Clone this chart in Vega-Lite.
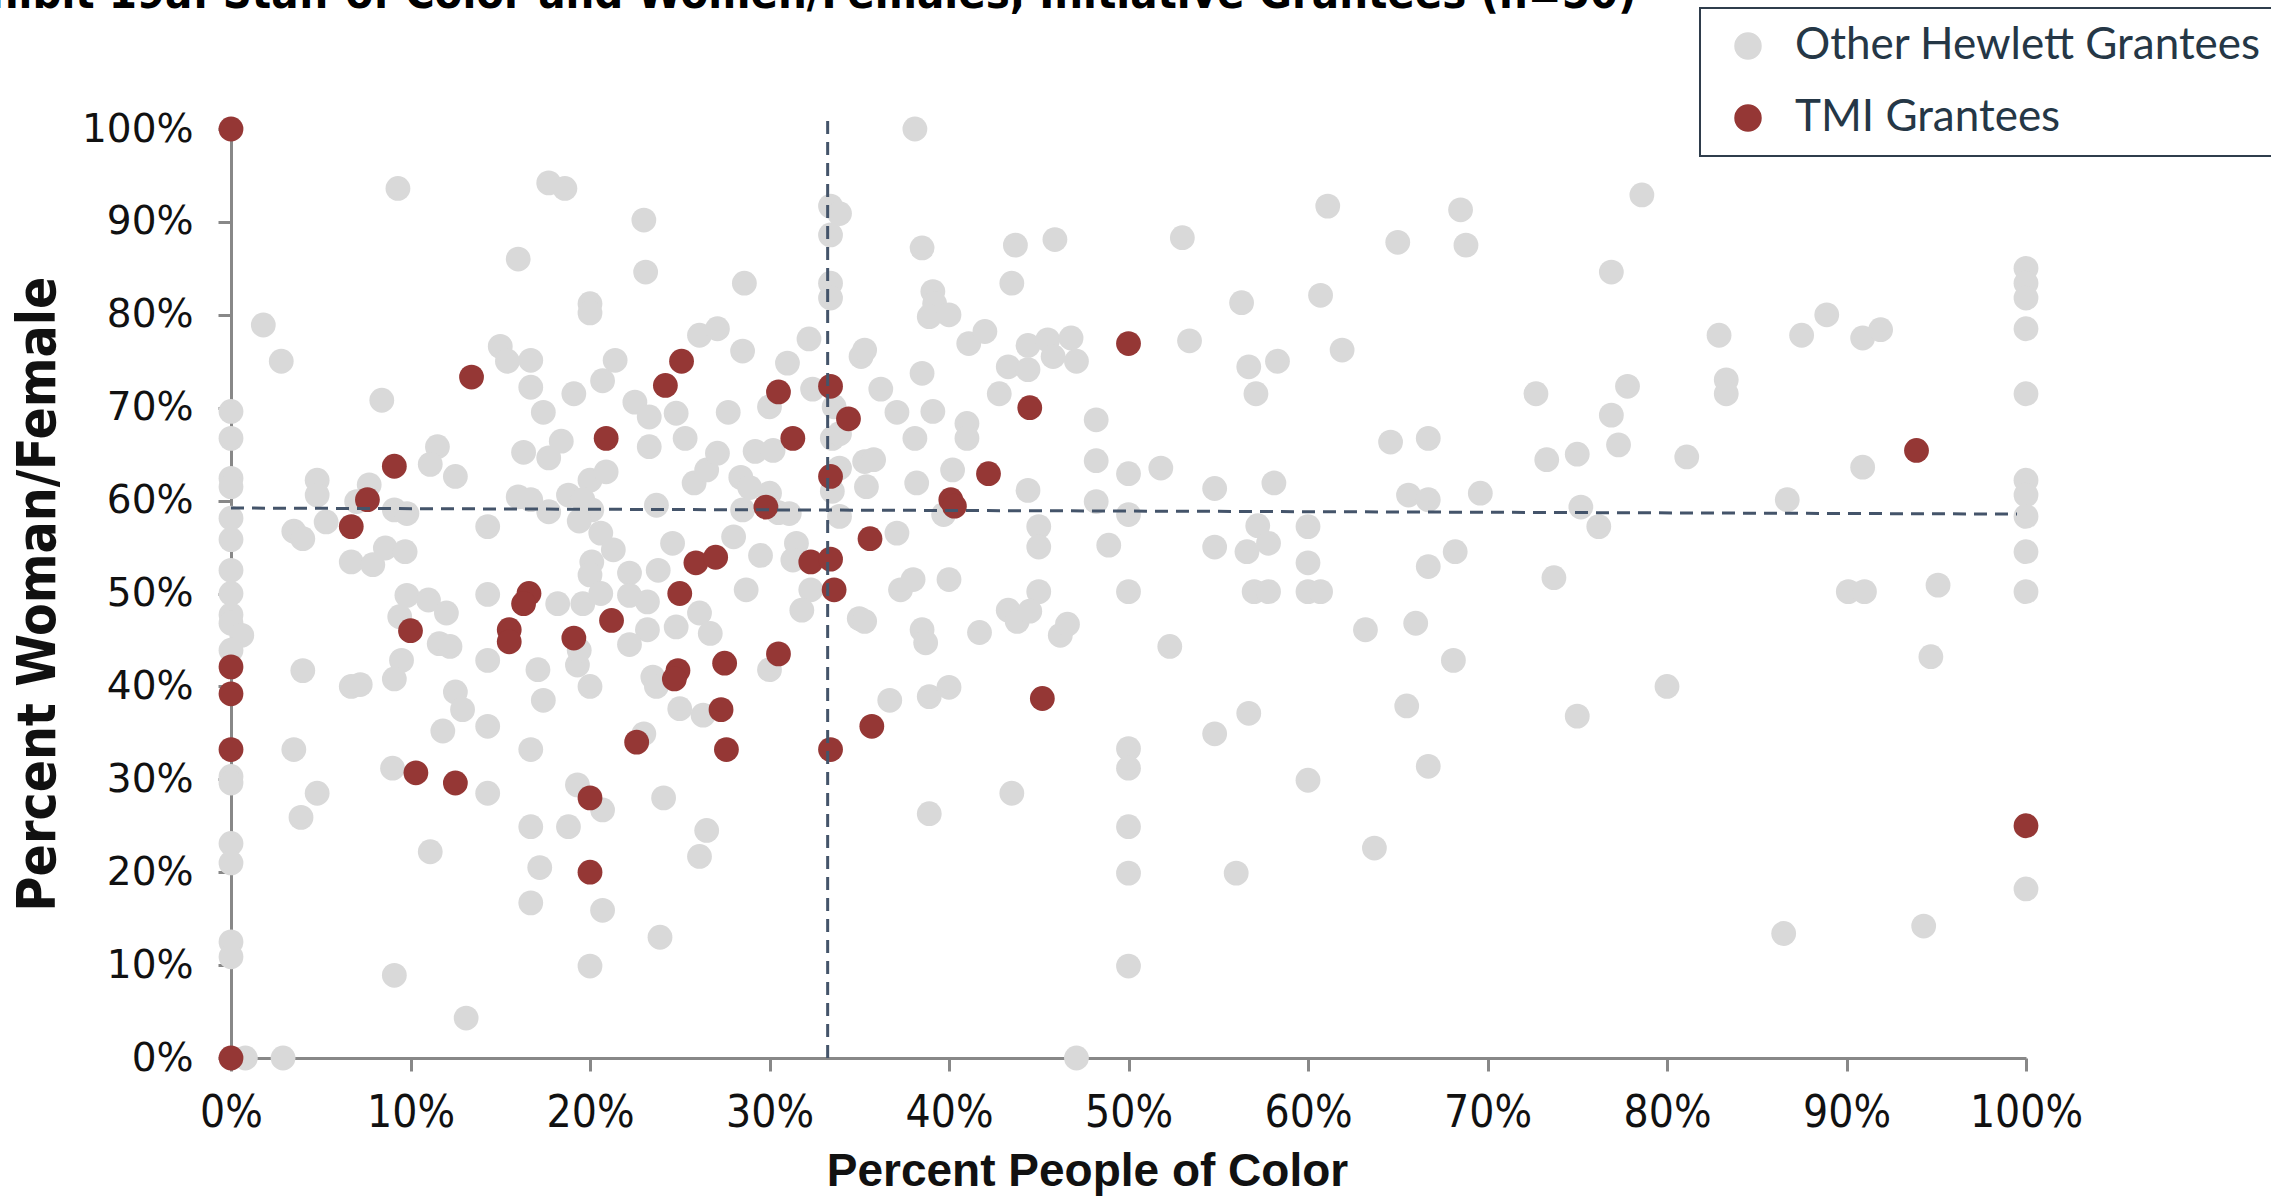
{
  "$schema": "https://vega.github.io/schema/vega-lite/v6.json",
  "width": 1795,
  "height": 929,
  "autosize": {"type": "none"},
  "padding": {"left": 231, "top": 129, "right": 245, "bottom": 145},
  "background": "white",
  "title": {
    "text": "Exhibit 19a: Staff of Color and Women/Females, Initiative Grantees (n=50)",
    "anchor": "start",
    "frame": "group",
    "font": "DejaVu Sans Condensed, DejaVu Sans, sans-serif",
    "fontWeight": "bold",
    "fontSize": 45,
    "color": "#000000",
    "baseline": "alphabetic",
    "offset": 0,
    "dx": -295,
    "dy": 46
  },
  "config": {"view": {"stroke": null}, "legend": {"strokeWidth": 2}},
  "layer": [
    {
      "data": {"values": [
        {"x":9.3,"y":93.6,"g":"Other Hewlett Grantees"},{"x":17.7,"y":94.2,"g":"Other Hewlett Grantees"},{"x":18.6,"y":93.6,"g":"Other Hewlett Grantees"},{"x":23.0,"y":90.2,"g":"Other Hewlett Grantees"},{"x":16.0,"y":86.0,"g":"Other Hewlett Grantees"},{"x":23.1,"y":84.6,"g":"Other Hewlett Grantees"},{"x":20.0,"y":81.2,"g":"Other Hewlett Grantees"},{"x":20.0,"y":80.2,"g":"Other Hewlett Grantees"},{"x":1.8,"y":78.9,"g":"Other Hewlett Grantees"},{"x":2.8,"y":75.0,"g":"Other Hewlett Grantees"},
        {"x":15.0,"y":76.6,"g":"Other Hewlett Grantees"},{"x":15.4,"y":75.0,"g":"Other Hewlett Grantees"},{"x":16.7,"y":75.1,"g":"Other Hewlett Grantees"},{"x":16.7,"y":72.2,"g":"Other Hewlett Grantees"},{"x":17.4,"y":69.5,"g":"Other Hewlett Grantees"},{"x":19.1,"y":71.5,"g":"Other Hewlett Grantees"},{"x":20.7,"y":72.9,"g":"Other Hewlett Grantees"},{"x":21.4,"y":75.1,"g":"Other Hewlett Grantees"},{"x":22.5,"y":70.6,"g":"Other Hewlett Grantees"},{"x":23.3,"y":69.0,"g":"Other Hewlett Grantees"},
        {"x":24.8,"y":69.4,"g":"Other Hewlett Grantees"},{"x":25.3,"y":66.7,"g":"Other Hewlett Grantees"},{"x":23.3,"y":65.8,"g":"Other Hewlett Grantees"},{"x":18.4,"y":66.4,"g":"Other Hewlett Grantees"},{"x":17.7,"y":64.6,"g":"Other Hewlett Grantees"},{"x":16.3,"y":65.2,"g":"Other Hewlett Grantees"},{"x":8.4,"y":70.8,"g":"Other Hewlett Grantees"},{"x":11.5,"y":65.8,"g":"Other Hewlett Grantees"},{"x":11.1,"y":63.9,"g":"Other Hewlett Grantees"},{"x":12.5,"y":62.6,"g":"Other Hewlett Grantees"},
        {"x":0,"y":69.6,"g":"Other Hewlett Grantees"},{"x":0,"y":66.7,"g":"Other Hewlett Grantees"},{"x":0,"y":62.4,"g":"Other Hewlett Grantees"},{"x":0,"y":61.5,"g":"Other Hewlett Grantees"},{"x":0,"y":58.1,"g":"Other Hewlett Grantees"},{"x":0,"y":55.8,"g":"Other Hewlett Grantees"},{"x":4.8,"y":62.2,"g":"Other Hewlett Grantees"},{"x":4.8,"y":60.6,"g":"Other Hewlett Grantees"},{"x":5.3,"y":57.7,"g":"Other Hewlett Grantees"},{"x":7.7,"y":61.7,"g":"Other Hewlett Grantees"},
        {"x":7.0,"y":59.9,"g":"Other Hewlett Grantees"},{"x":9.1,"y":59.0,"g":"Other Hewlett Grantees"},{"x":9.8,"y":58.6,"g":"Other Hewlett Grantees"},{"x":3.5,"y":56.7,"g":"Other Hewlett Grantees"},{"x":4.0,"y":55.9,"g":"Other Hewlett Grantees"},{"x":6.7,"y":53.4,"g":"Other Hewlett Grantees"},{"x":7.9,"y":53.1,"g":"Other Hewlett Grantees"},{"x":8.6,"y":54.9,"g":"Other Hewlett Grantees"},{"x":9.7,"y":54.5,"g":"Other Hewlett Grantees"},{"x":14.3,"y":57.2,"g":"Other Hewlett Grantees"},
        {"x":16.0,"y":60.4,"g":"Other Hewlett Grantees"},{"x":16.7,"y":60.1,"g":"Other Hewlett Grantees"},{"x":17.7,"y":58.8,"g":"Other Hewlett Grantees"},{"x":18.8,"y":60.6,"g":"Other Hewlett Grantees"},{"x":20.0,"y":62.2,"g":"Other Hewlett Grantees"},{"x":20.9,"y":63.1,"g":"Other Hewlett Grantees"},{"x":19.6,"y":60.1,"g":"Other Hewlett Grantees"},{"x":20.1,"y":59.0,"g":"Other Hewlett Grantees"},{"x":19.4,"y":57.8,"g":"Other Hewlett Grantees"},{"x":20.6,"y":56.5,"g":"Other Hewlett Grantees"},
        {"x":21.3,"y":54.7,"g":"Other Hewlett Grantees"},{"x":20.1,"y":53.4,"g":"Other Hewlett Grantees"},{"x":20.0,"y":52.0,"g":"Other Hewlett Grantees"},{"x":22.2,"y":52.2,"g":"Other Hewlett Grantees"},{"x":23.7,"y":59.5,"g":"Other Hewlett Grantees"},{"x":24.6,"y":55.4,"g":"Other Hewlett Grantees"},{"x":23.8,"y":52.5,"g":"Other Hewlett Grantees"},{"x":25.8,"y":61.9,"g":"Other Hewlett Grantees"},{"x":26.5,"y":63.3,"g":"Other Hewlett Grantees"},{"x":0,"y":52.5,"g":"Other Hewlett Grantees"},
        {"x":0,"y":50.0,"g":"Other Hewlett Grantees"},{"x":0,"y":47.7,"g":"Other Hewlett Grantees"},{"x":0,"y":46.8,"g":"Other Hewlett Grantees"},{"x":0.6,"y":45.5,"g":"Other Hewlett Grantees"},{"x":0,"y":43.9,"g":"Other Hewlett Grantees"},{"x":4.0,"y":41.7,"g":"Other Hewlett Grantees"},{"x":6.7,"y":40.0,"g":"Other Hewlett Grantees"},{"x":7.2,"y":40.2,"g":"Other Hewlett Grantees"},{"x":9.8,"y":49.8,"g":"Other Hewlett Grantees"},{"x":11.0,"y":49.3,"g":"Other Hewlett Grantees"},
        {"x":12.0,"y":47.9,"g":"Other Hewlett Grantees"},{"x":9.4,"y":47.5,"g":"Other Hewlett Grantees"},{"x":11.6,"y":44.6,"g":"Other Hewlett Grantees"},{"x":12.2,"y":44.3,"g":"Other Hewlett Grantees"},{"x":9.5,"y":42.8,"g":"Other Hewlett Grantees"},{"x":9.1,"y":40.8,"g":"Other Hewlett Grantees"},{"x":12.5,"y":39.4,"g":"Other Hewlett Grantees"},{"x":12.9,"y":37.5,"g":"Other Hewlett Grantees"},{"x":11.8,"y":35.2,"g":"Other Hewlett Grantees"},{"x":14.3,"y":35.7,"g":"Other Hewlett Grantees"},
        {"x":14.3,"y":42.8,"g":"Other Hewlett Grantees"},{"x":14.3,"y":49.9,"g":"Other Hewlett Grantees"},{"x":3.5,"y":33.2,"g":"Other Hewlett Grantees"},{"x":9.0,"y":31.2,"g":"Other Hewlett Grantees"},{"x":0,"y":30.3,"g":"Other Hewlett Grantees"},{"x":0,"y":29.6,"g":"Other Hewlett Grantees"},{"x":4.8,"y":28.5,"g":"Other Hewlett Grantees"},{"x":3.9,"y":25.9,"g":"Other Hewlett Grantees"},{"x":14.3,"y":28.5,"g":"Other Hewlett Grantees"},{"x":0,"y":23.1,"g":"Other Hewlett Grantees"},
        {"x":0,"y":21.0,"g":"Other Hewlett Grantees"},{"x":11.1,"y":22.2,"g":"Other Hewlett Grantees"},{"x":16.7,"y":24.9,"g":"Other Hewlett Grantees"},{"x":18.8,"y":24.9,"g":"Other Hewlett Grantees"},{"x":19.3,"y":29.4,"g":"Other Hewlett Grantees"},{"x":20.7,"y":26.7,"g":"Other Hewlett Grantees"},{"x":17.2,"y":20.5,"g":"Other Hewlett Grantees"},{"x":16.7,"y":16.7,"g":"Other Hewlett Grantees"},{"x":20.7,"y":15.9,"g":"Other Hewlett Grantees"},{"x":24.1,"y":28.0,"g":"Other Hewlett Grantees"},
        {"x":23.9,"y":13.0,"g":"Other Hewlett Grantees"},{"x":20.0,"y":9.9,"g":"Other Hewlett Grantees"},{"x":9.1,"y":8.9,"g":"Other Hewlett Grantees"},{"x":0,"y":12.5,"g":"Other Hewlett Grantees"},{"x":0,"y":10.9,"g":"Other Hewlett Grantees"},{"x":13.1,"y":4.3,"g":"Other Hewlett Grantees"},{"x":0.8,"y":0,"g":"Other Hewlett Grantees"},{"x":2.9,"y":0,"g":"Other Hewlett Grantees"},{"x":26.5,"y":24.5,"g":"Other Hewlett Grantees"},{"x":26.1,"y":21.7,"g":"Other Hewlett Grantees"},
        {"x":16.7,"y":33.2,"g":"Other Hewlett Grantees"},{"x":17.4,"y":38.5,"g":"Other Hewlett Grantees"},{"x":17.1,"y":41.8,"g":"Other Hewlett Grantees"},{"x":19.3,"y":42.3,"g":"Other Hewlett Grantees"},{"x":20.0,"y":40.0,"g":"Other Hewlett Grantees"},{"x":19.4,"y":43.9,"g":"Other Hewlett Grantees"},{"x":18.2,"y":48.9,"g":"Other Hewlett Grantees"},{"x":19.6,"y":48.9,"g":"Other Hewlett Grantees"},{"x":20.6,"y":50.0,"g":"Other Hewlett Grantees"},{"x":22.2,"y":49.8,"g":"Other Hewlett Grantees"},
        {"x":23.2,"y":49.1,"g":"Other Hewlett Grantees"},{"x":23.2,"y":46.1,"g":"Other Hewlett Grantees"},{"x":22.2,"y":44.5,"g":"Other Hewlett Grantees"},{"x":23.5,"y":41.0,"g":"Other Hewlett Grantees"},{"x":23.7,"y":40.0,"g":"Other Hewlett Grantees"},{"x":25.0,"y":37.6,"g":"Other Hewlett Grantees"},{"x":26.3,"y":36.9,"g":"Other Hewlett Grantees"},{"x":24.8,"y":46.4,"g":"Other Hewlett Grantees"},{"x":26.1,"y":47.9,"g":"Other Hewlett Grantees"},{"x":26.7,"y":45.7,"g":"Other Hewlett Grantees"},
        {"x":23.0,"y":34.9,"g":"Other Hewlett Grantees"},
        {"x":38.1,"y":100,"g":"Other Hewlett Grantees"},{"x":33.4,"y":91.7,"g":"Other Hewlett Grantees"},{"x":33.9,"y":90.9,"g":"Other Hewlett Grantees"},{"x":33.4,"y":88.6,"g":"Other Hewlett Grantees"},{"x":38.5,"y":87.2,"g":"Other Hewlett Grantees"},{"x":43.7,"y":87.5,"g":"Other Hewlett Grantees"},{"x":45.9,"y":88.1,"g":"Other Hewlett Grantees"},{"x":53.0,"y":88.3,"g":"Other Hewlett Grantees"},{"x":28.6,"y":83.4,"g":"Other Hewlett Grantees"},{"x":33.4,"y":83.4,"g":"Other Hewlett Grantees"},
        {"x":33.4,"y":81.8,"g":"Other Hewlett Grantees"},{"x":39.1,"y":82.5,"g":"Other Hewlett Grantees"},{"x":39.2,"y":81.2,"g":"Other Hewlett Grantees"},{"x":38.9,"y":79.8,"g":"Other Hewlett Grantees"},{"x":40.0,"y":80.0,"g":"Other Hewlett Grantees"},{"x":43.5,"y":83.4,"g":"Other Hewlett Grantees"},{"x":53.4,"y":77.2,"g":"Other Hewlett Grantees"},{"x":26.1,"y":77.8,"g":"Other Hewlett Grantees"},{"x":27.1,"y":78.5,"g":"Other Hewlett Grantees"},{"x":28.5,"y":76.1,"g":"Other Hewlett Grantees"},
        {"x":32.2,"y":77.4,"g":"Other Hewlett Grantees"},{"x":35.1,"y":75.5,"g":"Other Hewlett Grantees"},{"x":35.3,"y":76.2,"g":"Other Hewlett Grantees"},{"x":31.0,"y":74.8,"g":"Other Hewlett Grantees"},{"x":41.1,"y":76.9,"g":"Other Hewlett Grantees"},{"x":42.0,"y":78.2,"g":"Other Hewlett Grantees"},{"x":44.4,"y":76.7,"g":"Other Hewlett Grantees"},{"x":45.5,"y":77.3,"g":"Other Hewlett Grantees"},{"x":46.8,"y":77.5,"g":"Other Hewlett Grantees"},{"x":45.8,"y":75.5,"g":"Other Hewlett Grantees"},
        {"x":47.1,"y":75.0,"g":"Other Hewlett Grantees"},{"x":43.3,"y":74.4,"g":"Other Hewlett Grantees"},{"x":44.4,"y":74.1,"g":"Other Hewlett Grantees"},{"x":42.8,"y":71.5,"g":"Other Hewlett Grantees"},{"x":38.5,"y":73.7,"g":"Other Hewlett Grantees"},{"x":36.2,"y":72.0,"g":"Other Hewlett Grantees"},{"x":32.4,"y":72.0,"g":"Other Hewlett Grantees"},{"x":30.0,"y":70.1,"g":"Other Hewlett Grantees"},{"x":27.7,"y":69.5,"g":"Other Hewlett Grantees"},{"x":37.1,"y":69.5,"g":"Other Hewlett Grantees"},
        {"x":39.1,"y":69.6,"g":"Other Hewlett Grantees"},{"x":41.0,"y":68.3,"g":"Other Hewlett Grantees"},{"x":41.0,"y":66.7,"g":"Other Hewlett Grantees"},{"x":48.2,"y":68.7,"g":"Other Hewlett Grantees"},{"x":38.1,"y":66.7,"g":"Other Hewlett Grantees"},{"x":33.5,"y":66.7,"g":"Other Hewlett Grantees"},{"x":29.2,"y":65.3,"g":"Other Hewlett Grantees"},{"x":30.2,"y":65.4,"g":"Other Hewlett Grantees"},{"x":27.1,"y":65.1,"g":"Other Hewlett Grantees"},{"x":35.3,"y":64.2,"g":"Other Hewlett Grantees"},
        {"x":35.8,"y":64.4,"g":"Other Hewlett Grantees"},{"x":48.2,"y":64.3,"g":"Other Hewlett Grantees"},{"x":50.0,"y":62.9,"g":"Other Hewlett Grantees"},{"x":51.8,"y":63.5,"g":"Other Hewlett Grantees"},{"x":54.8,"y":61.3,"g":"Other Hewlett Grantees"},{"x":54.8,"y":55.0,"g":"Other Hewlett Grantees"},{"x":44.4,"y":61.1,"g":"Other Hewlett Grantees"},{"x":38.2,"y":61.9,"g":"Other Hewlett Grantees"},{"x":40.2,"y":63.3,"g":"Other Hewlett Grantees"},{"x":35.4,"y":61.5,"g":"Other Hewlett Grantees"},
        {"x":33.9,"y":63.5,"g":"Other Hewlett Grantees"},{"x":33.5,"y":61.0,"g":"Other Hewlett Grantees"},{"x":28.4,"y":62.5,"g":"Other Hewlett Grantees"},{"x":28.9,"y":61.4,"g":"Other Hewlett Grantees"},{"x":30.0,"y":60.8,"g":"Other Hewlett Grantees"},{"x":30.5,"y":58.7,"g":"Other Hewlett Grantees"},{"x":48.2,"y":59.9,"g":"Other Hewlett Grantees"},{"x":50.0,"y":58.5,"g":"Other Hewlett Grantees"},{"x":45.0,"y":57.2,"g":"Other Hewlett Grantees"},{"x":45.0,"y":55.0,"g":"Other Hewlett Grantees"},
        {"x":48.9,"y":55.2,"g":"Other Hewlett Grantees"},{"x":39.7,"y":58.5,"g":"Other Hewlett Grantees"},{"x":37.1,"y":56.5,"g":"Other Hewlett Grantees"},{"x":33.9,"y":58.3,"g":"Other Hewlett Grantees"},{"x":31.1,"y":58.6,"g":"Other Hewlett Grantees"},{"x":28.5,"y":59.0,"g":"Other Hewlett Grantees"},{"x":31.5,"y":55.4,"g":"Other Hewlett Grantees"},{"x":31.3,"y":53.6,"g":"Other Hewlett Grantees"},{"x":28.0,"y":56.1,"g":"Other Hewlett Grantees"},{"x":29.5,"y":54.1,"g":"Other Hewlett Grantees"},
        {"x":28.7,"y":50.4,"g":"Other Hewlett Grantees"},{"x":32.3,"y":50.4,"g":"Other Hewlett Grantees"},{"x":38.0,"y":51.5,"g":"Other Hewlett Grantees"},{"x":37.3,"y":50.4,"g":"Other Hewlett Grantees"},{"x":40.0,"y":51.5,"g":"Other Hewlett Grantees"},{"x":45.0,"y":50.2,"g":"Other Hewlett Grantees"},{"x":50.0,"y":50.2,"g":"Other Hewlett Grantees"},{"x":33.6,"y":70.1,"g":"Other Hewlett Grantees"},{"x":33.9,"y":67.2,"g":"Other Hewlett Grantees"},
        {"x":31.8,"y":48.2,"g":"Other Hewlett Grantees"},{"x":35.0,"y":47.3,"g":"Other Hewlett Grantees"},{"x":35.3,"y":47.0,"g":"Other Hewlett Grantees"},{"x":38.5,"y":46.1,"g":"Other Hewlett Grantees"},{"x":38.7,"y":44.7,"g":"Other Hewlett Grantees"},{"x":41.7,"y":45.8,"g":"Other Hewlett Grantees"},{"x":43.3,"y":48.2,"g":"Other Hewlett Grantees"},{"x":43.8,"y":47.0,"g":"Other Hewlett Grantees"},{"x":44.5,"y":48.1,"g":"Other Hewlett Grantees"},{"x":46.2,"y":45.5,"g":"Other Hewlett Grantees"},
        {"x":46.6,"y":46.7,"g":"Other Hewlett Grantees"},{"x":52.3,"y":44.3,"g":"Other Hewlett Grantees"},{"x":54.8,"y":34.9,"g":"Other Hewlett Grantees"},{"x":36.7,"y":38.5,"g":"Other Hewlett Grantees"},{"x":38.9,"y":38.9,"g":"Other Hewlett Grantees"},{"x":40.0,"y":39.9,"g":"Other Hewlett Grantees"},{"x":30.0,"y":41.8,"g":"Other Hewlett Grantees"},{"x":43.5,"y":28.5,"g":"Other Hewlett Grantees"},{"x":38.9,"y":26.3,"g":"Other Hewlett Grantees"},{"x":50.0,"y":33.3,"g":"Other Hewlett Grantees"},
        {"x":50.0,"y":31.2,"g":"Other Hewlett Grantees"},{"x":50.0,"y":24.9,"g":"Other Hewlett Grantees"},{"x":50.0,"y":19.9,"g":"Other Hewlett Grantees"},{"x":50.0,"y":9.9,"g":"Other Hewlett Grantees"},{"x":47.1,"y":0,"g":"Other Hewlett Grantees"},
        {"x":61.1,"y":91.7,"g":"Other Hewlett Grantees"},{"x":68.5,"y":91.3,"g":"Other Hewlett Grantees"},{"x":78.6,"y":92.9,"g":"Other Hewlett Grantees"},{"x":65.0,"y":87.8,"g":"Other Hewlett Grantees"},{"x":68.8,"y":87.5,"g":"Other Hewlett Grantees"},{"x":76.9,"y":84.6,"g":"Other Hewlett Grantees"},{"x":100,"y":85.0,"g":"Other Hewlett Grantees"},{"x":100,"y":83.4,"g":"Other Hewlett Grantees"},{"x":100,"y":81.8,"g":"Other Hewlett Grantees"},{"x":100,"y":78.5,"g":"Other Hewlett Grantees"},
        {"x":56.3,"y":81.3,"g":"Other Hewlett Grantees"},{"x":60.7,"y":82.1,"g":"Other Hewlett Grantees"},{"x":88.9,"y":80.0,"g":"Other Hewlett Grantees"},{"x":87.5,"y":77.8,"g":"Other Hewlett Grantees"},{"x":90.9,"y":77.5,"g":"Other Hewlett Grantees"},{"x":91.9,"y":78.4,"g":"Other Hewlett Grantees"},{"x":82.9,"y":77.8,"g":"Other Hewlett Grantees"},{"x":61.9,"y":76.2,"g":"Other Hewlett Grantees"},{"x":56.7,"y":74.4,"g":"Other Hewlett Grantees"},{"x":58.3,"y":75.0,"g":"Other Hewlett Grantees"},
        {"x":57.1,"y":71.5,"g":"Other Hewlett Grantees"},{"x":72.7,"y":71.5,"g":"Other Hewlett Grantees"},{"x":77.8,"y":72.3,"g":"Other Hewlett Grantees"},{"x":83.3,"y":73.0,"g":"Other Hewlett Grantees"},{"x":83.3,"y":71.5,"g":"Other Hewlett Grantees"},{"x":100,"y":71.5,"g":"Other Hewlett Grantees"},{"x":76.9,"y":69.2,"g":"Other Hewlett Grantees"},{"x":77.3,"y":66.0,"g":"Other Hewlett Grantees"},{"x":64.6,"y":66.3,"g":"Other Hewlett Grantees"},{"x":66.7,"y":66.7,"g":"Other Hewlett Grantees"},
        {"x":73.3,"y":64.4,"g":"Other Hewlett Grantees"},{"x":75.0,"y":65.0,"g":"Other Hewlett Grantees"},{"x":81.1,"y":64.7,"g":"Other Hewlett Grantees"},{"x":90.9,"y":63.6,"g":"Other Hewlett Grantees"},{"x":100,"y":62.2,"g":"Other Hewlett Grantees"},{"x":100,"y":60.6,"g":"Other Hewlett Grantees"},{"x":100,"y":58.3,"g":"Other Hewlett Grantees"},{"x":100,"y":54.5,"g":"Other Hewlett Grantees"},{"x":100,"y":50.2,"g":"Other Hewlett Grantees"},{"x":58.1,"y":61.9,"g":"Other Hewlett Grantees"},
        {"x":65.6,"y":60.6,"g":"Other Hewlett Grantees"},{"x":66.7,"y":60.1,"g":"Other Hewlett Grantees"},{"x":69.6,"y":60.8,"g":"Other Hewlett Grantees"},{"x":75.2,"y":59.3,"g":"Other Hewlett Grantees"},{"x":86.7,"y":60.1,"g":"Other Hewlett Grantees"},{"x":76.2,"y":57.2,"g":"Other Hewlett Grantees"},{"x":57.2,"y":57.3,"g":"Other Hewlett Grantees"},{"x":57.8,"y":55.4,"g":"Other Hewlett Grantees"},{"x":56.6,"y":54.5,"g":"Other Hewlett Grantees"},{"x":60.0,"y":57.2,"g":"Other Hewlett Grantees"},
        {"x":60.0,"y":53.3,"g":"Other Hewlett Grantees"},{"x":68.2,"y":54.5,"g":"Other Hewlett Grantees"},{"x":66.7,"y":52.9,"g":"Other Hewlett Grantees"},{"x":73.7,"y":51.7,"g":"Other Hewlett Grantees"},{"x":95.1,"y":50.9,"g":"Other Hewlett Grantees"},{"x":90.1,"y":50.2,"g":"Other Hewlett Grantees"},{"x":91.0,"y":50.2,"g":"Other Hewlett Grantees"},{"x":57.0,"y":50.2,"g":"Other Hewlett Grantees"},{"x":57.8,"y":50.2,"g":"Other Hewlett Grantees"},{"x":60.0,"y":50.2,"g":"Other Hewlett Grantees"},
        {"x":60.7,"y":50.2,"g":"Other Hewlett Grantees"},
        {"x":63.2,"y":46.1,"g":"Other Hewlett Grantees"},{"x":66.0,"y":46.8,"g":"Other Hewlett Grantees"},{"x":68.1,"y":42.8,"g":"Other Hewlett Grantees"},{"x":94.7,"y":43.2,"g":"Other Hewlett Grantees"},{"x":80.0,"y":40.0,"g":"Other Hewlett Grantees"},{"x":56.7,"y":37.1,"g":"Other Hewlett Grantees"},{"x":65.5,"y":37.9,"g":"Other Hewlett Grantees"},{"x":75.0,"y":36.8,"g":"Other Hewlett Grantees"},{"x":60.0,"y":29.9,"g":"Other Hewlett Grantees"},{"x":66.7,"y":31.4,"g":"Other Hewlett Grantees"},
        {"x":63.7,"y":22.6,"g":"Other Hewlett Grantees"},{"x":56.0,"y":19.9,"g":"Other Hewlett Grantees"},{"x":100,"y":18.2,"g":"Other Hewlett Grantees"},{"x":86.5,"y":13.4,"g":"Other Hewlett Grantees"},{"x":94.3,"y":14.2,"g":"Other Hewlett Grantees"},
        {"x":0,"y":100,"g":"TMI Grantees"},{"x":13.4,"y":73.3,"g":"TMI Grantees"},{"x":25.1,"y":75.0,"g":"TMI Grantees"},{"x":24.2,"y":72.4,"g":"TMI Grantees"},{"x":20.9,"y":66.7,"g":"TMI Grantees"},{"x":9.1,"y":63.7,"g":"TMI Grantees"},{"x":7.6,"y":60.1,"g":"TMI Grantees"},{"x":6.7,"y":57.2,"g":"TMI Grantees"},{"x":25.9,"y":53.3,"g":"TMI Grantees"},{"x":27.0,"y":53.9,"g":"TMI Grantees"},
        {"x":16.6,"y":50.0,"g":"TMI Grantees"},{"x":16.3,"y":48.9,"g":"TMI Grantees"},{"x":25.0,"y":50.0,"g":"TMI Grantees"},{"x":0,"y":42.1,"g":"TMI Grantees"},{"x":0,"y":39.2,"g":"TMI Grantees"},{"x":0,"y":33.2,"g":"TMI Grantees"},{"x":0,"y":0,"g":"TMI Grantees"},{"x":10.0,"y":46.0,"g":"TMI Grantees"},{"x":10.3,"y":30.7,"g":"TMI Grantees"},{"x":12.5,"y":29.6,"g":"TMI Grantees"},
        {"x":15.5,"y":46.1,"g":"TMI Grantees"},{"x":15.5,"y":44.8,"g":"TMI Grantees"},{"x":19.1,"y":45.2,"g":"TMI Grantees"},{"x":21.2,"y":47.1,"g":"TMI Grantees"},{"x":24.9,"y":41.7,"g":"TMI Grantees"},{"x":24.7,"y":40.8,"g":"TMI Grantees"},{"x":22.6,"y":34.0,"g":"TMI Grantees"},{"x":20.0,"y":28.0,"g":"TMI Grantees"},{"x":20.0,"y":20.0,"g":"TMI Grantees"},{"x":33.6,"y":50.4,"g":"TMI Grantees"},
        {"x":27.5,"y":42.5,"g":"TMI Grantees"},{"x":30.5,"y":43.5,"g":"TMI Grantees"},{"x":27.3,"y":37.5,"g":"TMI Grantees"},{"x":27.6,"y":33.2,"g":"TMI Grantees"},{"x":33.4,"y":33.2,"g":"TMI Grantees"},{"x":35.7,"y":35.7,"g":"TMI Grantees"},{"x":45.2,"y":38.7,"g":"TMI Grantees"},{"x":50.0,"y":76.9,"g":"TMI Grantees"},{"x":30.5,"y":71.7,"g":"TMI Grantees"},{"x":33.4,"y":72.3,"g":"TMI Grantees"},
        {"x":34.4,"y":68.8,"g":"TMI Grantees"},{"x":31.3,"y":66.7,"g":"TMI Grantees"},{"x":44.5,"y":70.0,"g":"TMI Grantees"},{"x":33.4,"y":62.6,"g":"TMI Grantees"},{"x":42.2,"y":62.9,"g":"TMI Grantees"},{"x":40.1,"y":60.1,"g":"TMI Grantees"},{"x":40.3,"y":59.4,"g":"TMI Grantees"},{"x":29.8,"y":59.3,"g":"TMI Grantees"},{"x":35.6,"y":55.9,"g":"TMI Grantees"},{"x":32.3,"y":53.4,"g":"TMI Grantees"},
        {"x":33.4,"y":53.7,"g":"TMI Grantees"},{"x":93.9,"y":65.4,"g":"TMI Grantees"},{"x":100,"y":25.0,"g":"TMI Grantees"}
      ]},
      "mark": {"type": "circle", "size": 615, "opacity": 1, "strokeWidth": 0},
      "encoding": {
        "x": {
          "field": "x",
          "type": "quantitative",
          "scale": {"domain": [0, 100], "nice": false, "zero": false},
          "axis": {
            "title": "Percent People of Color",
            "values": [0, 10, 20, 30, 40, 50, 60, 70, 80, 90, 100],
            "labelExpr": "datum.value + '%'",
            "grid": false,
            "domainColor": "#888888",
            "domainWidth": 3,
            "tickColor": "#888888",
            "tickWidth": 3,
            "tickSize": 13,
            "labelFont": "DejaVu Sans Condensed, DejaVu Sans, sans-serif",
            "labelFontSize": 44,
            "labelColor": "#111111",
            "labelPadding": 20,
            "labelFlush": false,
            "labelOverlap": false,
            "titleFont": "Liberation Sans, Arial, sans-serif",
            "titleFontSize": 46,
            "titleFontWeight": "bold",
            "titleColor": "#111111",
            "titlePadding": 14,
            "titleX": 856,
            "titleAlign": "center"
          }
        },
        "y": {
          "field": "y",
          "type": "quantitative",
          "scale": {"domain": [0, 100], "nice": false, "zero": false},
          "axis": {
            "title": "Percent Woman/Female",
            "values": [0, 10, 20, 30, 40, 50, 60, 70, 80, 90, 100],
            "labelExpr": "datum.value + '%'",
            "grid": false,
            "domainColor": "#888888",
            "domainWidth": 3,
            "tickColor": "#888888",
            "tickWidth": 3,
            "tickSize": 13,
            "labelFont": "DejaVu Sans, Verdana, sans-serif",
            "labelFontSize": 39,
            "labelColor": "#111111",
            "labelPadding": 25,
            "labelFlush": false,
            "labelOverlap": false,
            "titleFont": "DejaVu Sans Condensed, DejaVu Sans, sans-serif",
            "titleFontSize": 53,
            "titleFontWeight": "bold",
            "titleColor": "#111111",
            "titlePadding": 16
          }
        },
        "fill": {
          "field": "g",
          "type": "nominal",
          "scale": {"domain": ["Other Hewlett Grantees", "TMI Grantees"], "range": ["#D9D9D9", "#953735"]},
          "legend": {
            "title": null,
            "orient": "none",
            "legendX": 1469,
            "legendY": -121,
            "direction": "vertical",
            "strokeColor": "#2F3D4C",
            "fillColor": "white",
            "padding": 16,
            "symbolType": "circle",
            "symbolSize": 755,
            "symbolStrokeWidth": 0,
            "symbolOffset": 10,
            "labelFont": "Lato",
            "labelFontSize": 44,
            "labelColor": "#253746",
            "labelOffset": 25,
            "labelLimit": 1000,
            "rowPadding": 28
          }
        }
      }
    },
    {
      "data": {"values": [{"px": 33.24, "pa": 0, "pb": 101}]},
      "mark": {"type": "rule", "color": "#44546A", "strokeWidth": 3, "strokeDash": [13, 8]},
      "encoding": {
        "x": {"field": "px", "type": "quantitative"},
        "y": {"field": "pa", "type": "quantitative"},
        "y2": {"field": "pb"}
      }
    },
    {
      "data": {"values": [{"ha": 0, "hb": 99.5, "va": 59.2, "vb": 58.55}]},
      "mark": {"type": "rule", "color": "#44546A", "strokeWidth": 3, "strokeDash": [13, 8]},
      "encoding": {
        "x": {"field": "ha", "type": "quantitative"},
        "x2": {"field": "hb"},
        "y": {"field": "va", "type": "quantitative"},
        "y2": {"field": "vb"}
      }
    }
  ]
}
